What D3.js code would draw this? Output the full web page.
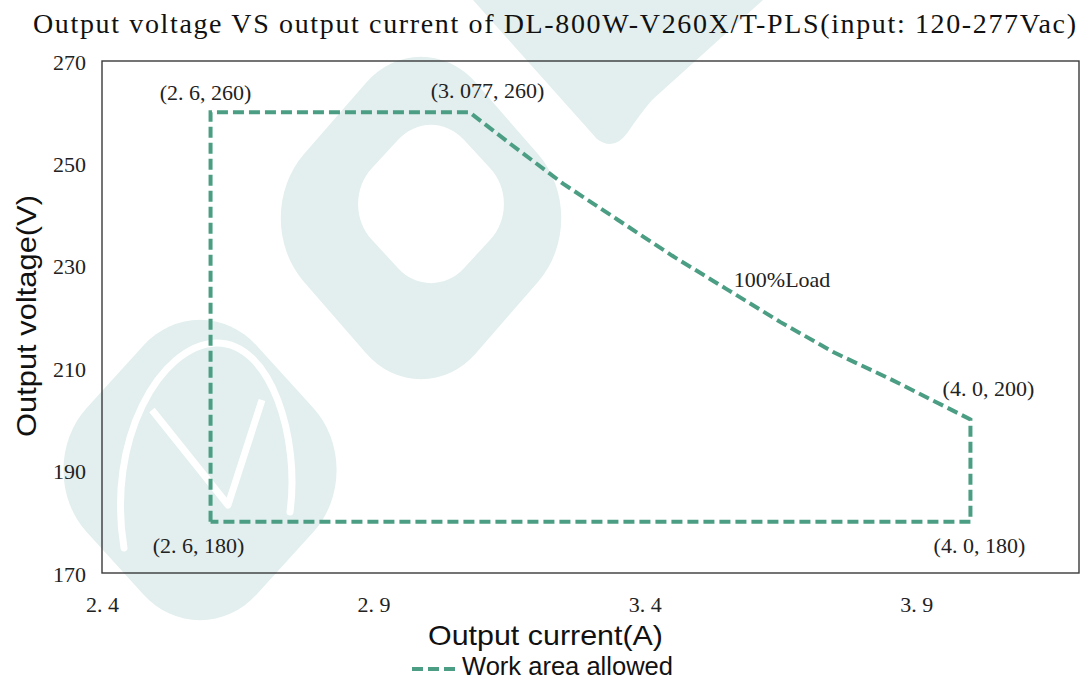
<!DOCTYPE html>
<html><head><meta charset="utf-8">
<script src="https://cdn.jsdelivr.net/npm/d3@7"></script>
<style>body{margin:0;background:#fff}svg{display:block}</style>
</head><body>
<svg id="chart" width="1081" height="681"></svg>
<script>
// ---- data ----
const titleText = "Output voltage VS output current of DL-800W-V260X/T-PLS(input: 120-277Vac)";
const xTitle = "Output current(A)";
const yTitle = "Output voltage(V)";
const legendLabel = "Work area allowed";
const xTicks = [2.4, 2.9, 3.4, 3.9];
const xTickLabels = ["2.4", "2.9", "3.4", "3.9"];
const yTicks = [170, 190, 210, 230, 250, 270];
const yTickLabels = ["170", "190", "210", "230", "250", "270"];
// work-area boundary (closed)
const currents = [2.6, 2.6, 3.077, 3.15, 3.25, 3.35, 3.45, 3.55, 3.65, 3.75, 3.85, 4.0, 4.0, 2.6];
const voltages = [180, 260, 260, 254, 246, 239, 232, 225.5, 219, 213, 208, 200, 180, 180];
// annotations
const annLabels = ["(2.6,260)", "(3.077,260)", "100%Load", "(4.0,200)", "(2.6,180)", "(4.0,180)"];
const annX = [2.6, 3.077, 3.653, 4.0, 2.6, 4.0];
const annY = [260, 260, 225.9, 200, 180, 180];

// ---- layout ----
const M = {left: 102, top: 61, right: 1079, bottom: 573};
const lineColor = "#4b9e83";
const serif = "'Liberation Serif', 'DejaVu Serif', serif";
const sans = "'Liberation Sans', 'Noto Sans', sans-serif";

const svg = d3.select("#chart");
const x = d3.scaleLinear().domain([2.4, 4.2]).range([M.left, M.right]);
const y = d3.scaleLinear().domain([170, 270]).range([M.bottom, M.top]);

// ---- watermark ----
const wm = svg.append("g").attr("fill", "#e2efee");
wm.append("path").attr("d", "M473,0 L763,0 L652,100 Q640,114 628,132 Q614,152 597,139 Z");
wm.append("rect").attr("x", -122).attr("y", -122).attr("width", 244).attr("height", 244).attr("rx", 78)
  .attr("transform", "translate(421,218) scale(1,1.15) rotate(45)");
wm.append("rect").attr("x", -62).attr("y", -62).attr("width", 124).attr("height", 124).attr("rx", 44)
  .attr("fill", "#fff").attr("transform", "translate(431,204) scale(1.05,1.14) rotate(45)");
wm.append("rect").attr("x", -120).attr("y", -120).attr("width", 240).attr("height", 240).attr("rx", 80)
  .attr("transform", "translate(200,470) scale(1,1.1) rotate(45)");
wm.append("path").attr("d", "M124,548 C106,440 160,345 216,343 C272,342 300,440 290,512")
  .attr("fill", "none").attr("stroke", "#fff").attr("stroke-width", 7).attr("stroke-linecap", "round");
wm.append("path").attr("d", "M152,410 L228,505 L262,400")
  .attr("fill", "none").attr("stroke", "#fff").attr("stroke-width", 7).attr("stroke-linejoin", "round");

// ---- helper: text with wide punctuation (SimSun-like) ----
function punctText(sel, str) {
  const parts = str.match(/[^.,]*[.,]?/g).filter(s => s.length);
  parts.forEach((p, i) => {
    const t = sel.append("tspan").text(p);
    if (i > 0) t.attr("dx", "0.25em");
  });
  return sel;
}

// ---- title ----
svg.append("text").attr("x", 33).attr("y", 33)
  .attr("font-family", serif).attr("font-size", 28).attr("fill", "#111")
  .attr("textLength", 1043).attr("lengthAdjust", "spacing")
  .text(titleText);

// ---- frame ----
svg.append("rect").attr("x", M.left).attr("y", M.top)
  .attr("width", M.right - M.left).attr("height", M.bottom - M.top)
  .attr("fill", "none").attr("stroke", "#3a3a3a").attr("stroke-width", 1.4);

// ---- axes (labels only, no tick marks) ----
const xAxis = svg.append("g").attr("transform", `translate(0,${M.bottom})`)
  .call(d3.axisBottom(x).tickValues(xTicks).tickSize(0).tickFormat(() => ""));
xAxis.select(".domain").remove();
xAxis.selectAll(".tick text").remove();
xAxis.selectAll(".tick").append("text")
  .attr("y", 39).attr("text-anchor", "middle")
  .attr("font-family", serif).attr("font-size", 22).attr("fill", "#222")
  .each(function(d, i) { punctText(d3.select(this), xTickLabels[i]); });

const yAxis = svg.append("g").attr("transform", `translate(${M.left},0)`)
  .call(d3.axisLeft(y).tickValues(yTicks).tickSize(0).tickFormat(() => ""));
yAxis.select(".domain").remove();
yAxis.selectAll(".tick text").remove();
yAxis.selectAll(".tick").append("text")
  .attr("x", -16).attr("y", 8).attr("text-anchor", "end")
  .attr("font-family", serif).attr("font-size", 22).attr("fill", "#222")
  .text((d, i) => yTickLabels[i]);

// ---- axis titles ----
svg.append("text").attr("x", 428).attr("y", 645)
  .attr("font-family", sans).attr("font-size", 28).attr("fill", "#111")
  .attr("textLength", 235).attr("lengthAdjust", "spacingAndGlyphs")
  .text(xTitle);
svg.append("text").attr("transform", "translate(36,437) rotate(-90)")
  .attr("font-family", sans).attr("font-size", 28).attr("fill", "#111")
  .attr("textLength", 242).attr("lengthAdjust", "spacingAndGlyphs")
  .text(yTitle);

// ---- work area line ----
const pts = currents.map((c, i) => [c, voltages[i]]);
const line = d3.line().x(d => x(d[0])).y(d => y(d[1])).curve(d3.curveLinear);
svg.append("path").datum(pts).attr("d", line)
  .attr("fill", "none").attr("stroke", lineColor).attr("stroke-width", 4)
  .attr("stroke-dasharray", "11,5").attr("stroke-linejoin", "miter");

// ---- annotations ----
const annDx = [-5, 18, 0, 18, -12, 9];
const annDy = [-12, -14, 0, -23, 31, 31];
annLabels.forEach((lab, i) => {
  const t = svg.append("text")
    .attr("x", x(annX[i]) + annDx[i]).attr("y", y(annY[i]) + annDy[i])
    .attr("text-anchor", "middle")
    .attr("font-family", serif).attr("font-size", 22).attr("fill", "#222");
  punctText(t, lab);
});

// ---- legend ----
svg.append("line").attr("x1", 412).attr("x2", 455).attr("y1", 669).attr("y2", 669)
  .attr("stroke", lineColor).attr("stroke-width", 4).attr("stroke-dasharray", "11,5");
svg.append("text").attr("x", 462).attr("y", 675)
  .attr("font-family", sans).attr("font-size", 26).attr("fill", "#111")
  .attr("textLength", 211).attr("lengthAdjust", "spacingAndGlyphs")
  .text(legendLabel);
</script>
</body></html>
